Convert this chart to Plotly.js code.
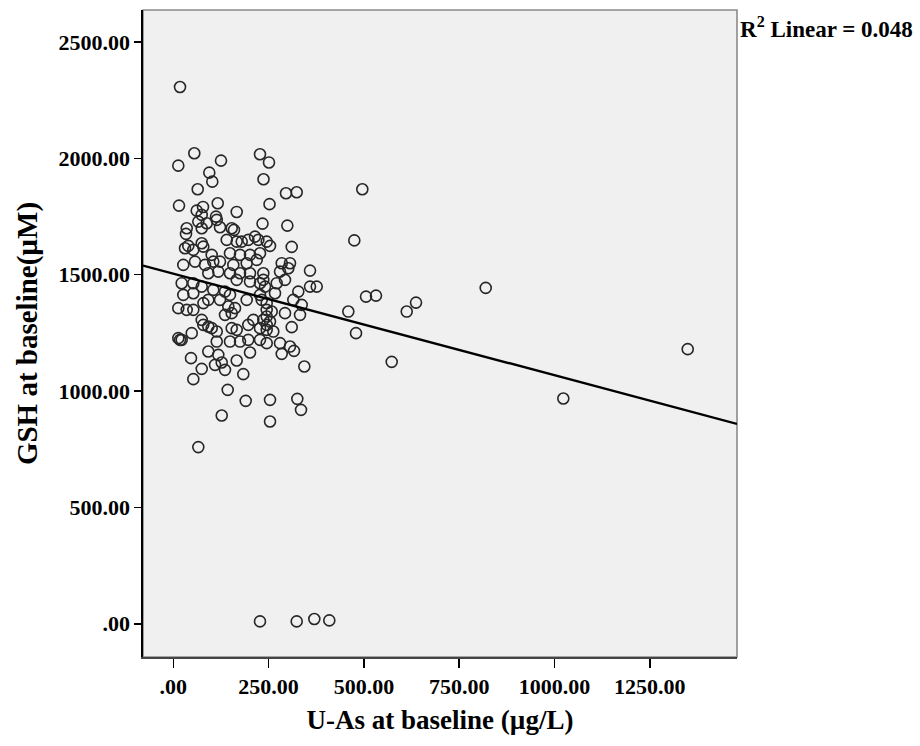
<!DOCTYPE html>
<html>
<head>
<meta charset="utf-8">
<script src="https://cdn.plot.ly/plotly-3.0.1.min.js"></script>
<style>
  html, body { margin: 0; padding: 0; background: #ffffff; }
  #chart { width: 920px; height: 746px; }
</style>
</head>
<body>
<div id="chart"></div>
<script>
// Urinary arsenic (µg/L) at baseline for each participant
const uAs = [
  55.1, 13.1, 125.1, 227.4, 251.0, 94.4, 102.3, 64.0, 236.6, 15.0,
  116.5, 77.9, 61.4, 74.5, 166.3, 112.0, 113.9, 252.4, 65.6, 87.6,
  74.5, 35.2, 33.3, 122.5, 153.2, 159.2, 234.0, 140.1, 166.3, 179.4,
  196.7, 214.3, 223.0, 30.7, 39.3, 74.5, 78.7, 245.0,
  295.6, 323.7, 495.8, 299.1, 474.8, 253.7, 310.6,
  52.5, 100.7, 148.7, 175.0, 201.2, 227.4, 26.2, 56.9, 83.2, 104.9,
  122.5, 157.4, 192.5, 218.8, 91.8, 118.0, 148.7, 175.0, 201.2, 236.1,
  22.0, 52.5, 74.5, 104.9, 135.6, 166.3, 201.2, 227.4, 26.2, 52.5,
  91.8, 122.5, 148.7, 192.5, 227.4, 79.0, 13.1, 35.2, 52.5, 144.3,
  161.9, 153.2, 245.0, 135.6, 74.5, 78.7, 91.8, 100.7, 48.3, 113.9,
  153.2, 166.3, 196.7, 209.9, 227.4, 13.1, 17.6, 22.0, 113.9, 148.7,
  175.0, 196.7, 227.4, 245.0,
  284.4, 306.1, 301.7, 279.9, 358.6, 293.0, 271.2, 240.6, 236.1, 358.6,
  376.2, 327.9, 266.8, 314.8, 336.8, 231.9, 459.1, 245.0, 258.1, 293.0,
  332.4, 236.1, 253.7, 245.0, 310.6, 479.3, 245.0, 262.3, 279.9, 306.1,
  245.0,
  46.4, 91.8, 118.0, 109.4, 127.0, 201.2, 166.3, 74.5, 135.6, 183.6,
  52.5, 142.7, 189.9, 253.7, 127.0, 253.7, 65.6,
  284.4, 316.6, 343.7, 325.3, 335.0,
  505.5, 531.7, 819.5, 612.3, 636.7, 572.9, 1023.1, 1349.4,
  227.4, 323.7, 369.9, 409.2, 17.6
];

// Glutathione (µM) at baseline, same order as uAs
const gsh = [
  2021.9, 1968.6, 1990.1, 2017.6, 1982.4, 1938.6, 1899.9, 1867.2, 1910.2, 1796.8,
  1807.1, 1791.2, 1775.3, 1756.9, 1769.7, 1749.6, 1735.4, 1803.2, 1728.1, 1721.2,
  1699.8, 1699.8, 1675.2, 1704.0, 1699.8, 1692.4, 1719.5, 1649.4, 1642.2, 1642.2,
  1649.4, 1663.6, 1649.4, 1613.8, 1623.7, 1635.3, 1620.7, 1642.2,
  1850.1, 1854.4, 1867.2, 1710.9, 1647.3, 1623.7, 1619.4,
  1606.5, 1585.0, 1592.3, 1585.0, 1585.0, 1592.3, 1542.1, 1556.3, 1542.1, 1556.3,
  1556.3, 1542.1, 1549.4, 1563.6, 1506.4, 1513.3, 1506.4, 1506.4, 1506.4, 1506.4,
  1463.5, 1463.5, 1448.9, 1434.7, 1427.4, 1477.6, 1470.4, 1463.5, 1413.2, 1420.5,
  1391.7, 1391.7, 1413.2, 1391.7, 1413.2, 1378.0, 1356.1, 1348.8, 1348.8, 1363.0,
  1356.1, 1334.6, 1377.6, 1327.3, 1305.8, 1284.4, 1277.0, 1270.2, 1248.7, 1255.6,
  1270.2, 1262.9, 1284.4, 1305.8, 1270.2, 1227.2, 1219.9, 1219.9, 1212.6, 1212.6,
  1212.6, 1219.9, 1219.9, 1320.0,
  1549.4, 1549.4, 1527.9, 1513.3, 1517.6, 1477.6, 1463.5, 1448.9, 1477.6, 1448.9,
  1448.9, 1427.4, 1420.5, 1391.7, 1370.3, 1391.7, 1341.5, 1348.8, 1341.5, 1334.6,
  1327.3, 1305.8, 1298.5, 1284.4, 1274.5, 1248.7, 1262.9, 1255.6, 1205.7, 1191.1,
  1205.7,
  1141.3, 1169.7, 1155.5, 1112.5, 1122.4, 1165.4, 1131.0, 1095.4, 1091.1, 1072.6,
  1051.1, 1005.1, 957.9, 962.2, 894.8, 869.0, 759.0,
  1159.8, 1172.7, 1105.2, 966.5, 919.2,
  1405.9, 1410.2, 1443.3, 1341.5, 1380.1, 1125.4, 967.8, 1180.0,
  9.9, 9.9, 20.2, 14.2, 2306.7
];

// Linear fit reported with the scatter
const fitIntercept = 1504.3;
const fitSlope = -0.4365;
const rSquared = 0.048;

// Axis ranges and tick labels
const xRange = [-79.5, 1478.7];
const yRange = [-143, 2637.5];
const xTickVals = [0, 250, 500, 750, 1000, 1250];
const xTickText = ['.00', '250.00', '500.00', '750.00', '1000.00', '1250.00'];
const yTickVals = [0, 500, 1000, 1500, 2000, 2500];
const yTickText = ['.00', '500.00', '1000.00', '1500.00', '2000.00', '2500.00'];

// Fit line spans the full width of the plotting area
const fitX = [xRange[0], xRange[1]];
const fitY = fitX.map(v => fitIntercept + fitSlope * v);

const FONT = '"Liberation Serif", "Times New Roman", serif';

const traces = [
  {
    type: 'scatter',
    mode: 'markers',
    x: uAs,
    y: gsh,
    marker: {
      symbol: 'circle-open',
      size: 11,
      color: '#262626',
      line: { width: 1.6, color: '#262626' }
    },
    hoverinfo: 'x+y',
    cliponaxis: true
  },
  {
    type: 'scatter',
    mode: 'lines',
    x: fitX,
    y: fitY,
    line: { color: '#000000', width: 2.4 },
    hoverinfo: 'skip'
  }
];

const layout = {
  width: 920,
  height: 746,
  margin: { l: 143, r: 183, t: 10, b: 89, pad: 0 },
  paper_bgcolor: '#ffffff',
  plot_bgcolor: '#f0f0f0',
  showlegend: false,
  font: { family: FONT, color: '#000000' },
  xaxis: {
    range: xRange,
    tickmode: 'array',
    tickvals: xTickVals,
    ticktext: xTickText,
    ticks: 'outside',
    ticklen: 9,
    tickwidth: 1.6,
    tickcolor: '#000000',
    showgrid: false,
    zeroline: false,
    showline: true,
    linecolor: '#444444',
    linewidth: 1.6,
    tickfont: { family: FONT, size: 22, color: '#000000', weight: 'bold' },
    title: {
      text: '<b>U-As at baseline (µg/L)</b>',
      font: { family: FONT, size: 27, color: '#000000' },
      standoff: 12
    }
  },
  yaxis: {
    range: yRange,
    tickmode: 'array',
    tickvals: yTickVals,
    ticktext: yTickText,
    ticks: 'outside',
    ticklen: 7,
    tickwidth: 1.6,
    tickcolor: '#000000',
    showgrid: false,
    zeroline: false,
    showline: true,
    linecolor: '#000000',
    linewidth: 1.6,
    tickfont: { family: FONT, size: 22, color: '#000000', weight: 'bold' },
    title: {
      text: '<b>GSH at baseline(µM)</b>',
      font: { family: FONT, size: 29, color: '#000000' },
      standoff: 12
    }
  },
  shapes: [
    {
      type: 'rect',
      xref: 'paper', yref: 'paper',
      x0: 0, x1: 1, y0: 0, y1: 1,
      line: { color: '#8a8a8a', width: 1.6 },
      fillcolor: 'rgba(0,0,0,0)',
      layer: 'below'
    }
  ],
  annotations: [
    {
      xref: 'paper', yref: 'paper',
      x: 1.002, y: 0.973,
      xanchor: 'left', yanchor: 'middle',
      showarrow: false,
      text: '<b>R<sup>2</sup> Linear = ' + rSquared.toFixed(3) + '</b>',
      font: { family: FONT, size: 23, color: '#000000' }
    }
  ]
};

Plotly.newPlot('chart', traces, layout, { displayModeBar: false, staticPlot: true });
</script>
</body>
</html>
